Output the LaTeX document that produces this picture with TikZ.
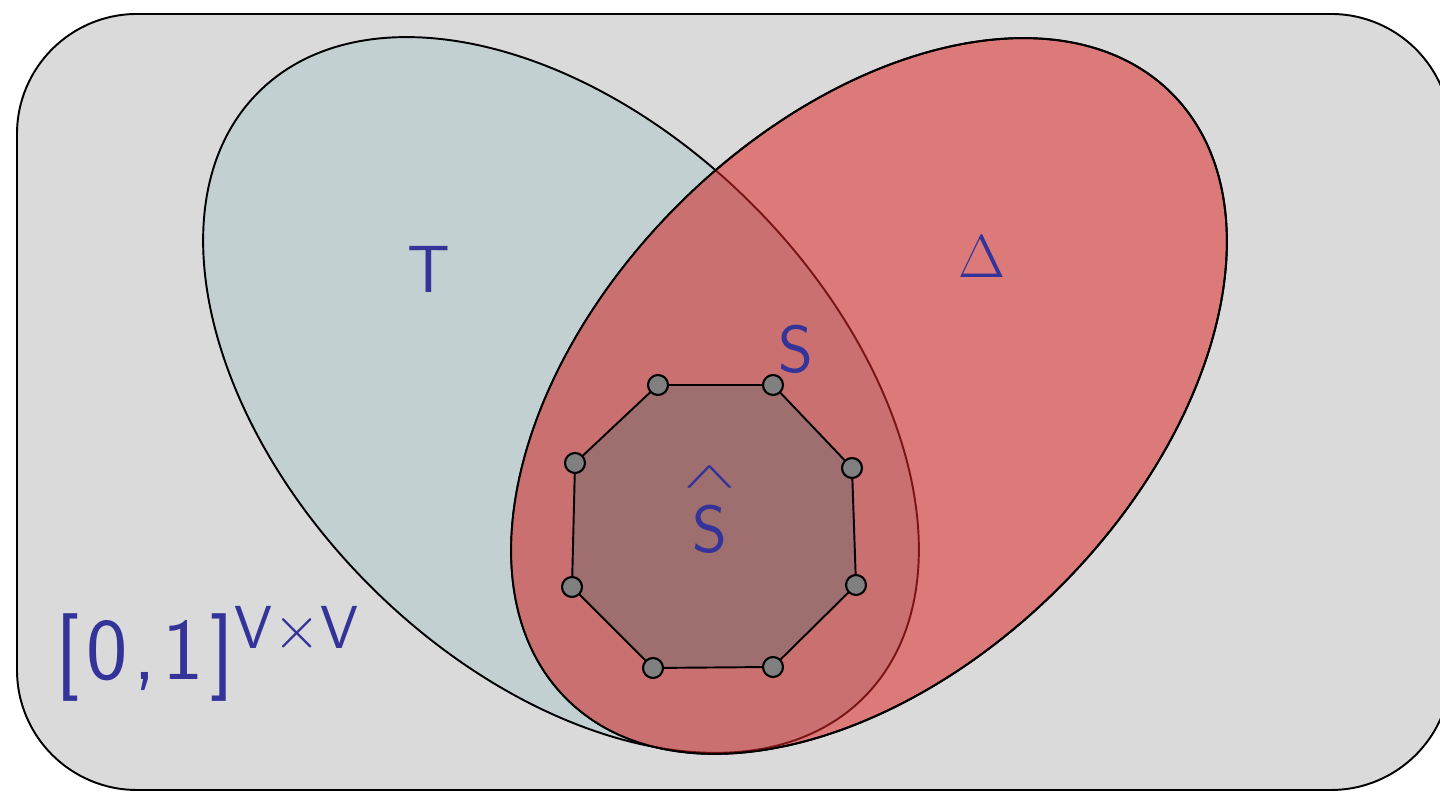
\documentclass[tikz,border=0pt]{standalone}
\usepackage{amsmath}
\usepackage{graphicx}
\usepackage{tikz}
\definecolor{bggray}{HTML}{DADADA}
\definecolor{tblue}{HTML}{C3D0D1}
\definecolor{dred}{HTML}{DC7A7A}
\definecolor{sred}{HTML}{CB7070}
\definecolor{sline}{HTML}{7A1515}
\definecolor{hatred}{HTML}{9E6F6E}
\definecolor{dotgray}{HTML}{808080}
\definecolor{labelblue}{HTML}{333399}

\begin{document}
\begin{tikzpicture}[
  outline/.style={line width=0.55pt},
  lbl/.style={text=labelblue, font=\sffamily\fontsize{19}{20}\selectfont, inner sep=0pt},
  vdot/.style={circle, draw=black, fill=dotgray, line width=0.6pt, minimum size=0.2cm, inner sep=0pt}]
\useasboundingbox (0,0) rectangle (14.4,7.92);
\filldraw[fill=bggray, outline, rounded corners=1.2cm] (0.17,0.02) rectangle (14.51,7.78);
\coordinate (tc) at (5.61,3.97);
\coordinate (dc) at (8.69,3.96);
\filldraw[fill=tblue, outline, rotate around={-45:(tc)}] (tc) ellipse (4.28 and 2.70);
\filldraw[fill=dred, outline, rotate around={45:(dc)}] (dc) ellipse (4.28 and 2.70);
\begin{scope}
\clip[rotate around={45:(dc)}] (dc) ellipse (4.28 and 2.70);
\filldraw[fill=sred, draw=sline, outline, rotate around={-45:(tc)}] (tc) ellipse (4.28 and 2.70);
\end{scope}
\draw[outline, rotate around={45:(dc)}] (dc) ellipse (4.28 and 2.70);
\foreach \i/\x/\y in {1/6.58/4.07, 2/7.73/4.07, 3/8.52/3.24, 4/8.56/2.07,
  5/7.73/1.25, 6/6.53/1.24, 7/5.72/2.05, 8/5.75/3.29}
  \coordinate (p\i) at (\x,\y);
\filldraw[fill=hatred, outline] (p1) -- (p2) -- (p3) -- (p4) -- (p5) -- (p6) -- (p7) -- (p8) -- cycle;
\foreach \i in {1,...,8}
  \node[vdot] (v\i) at (p\i) {};
\node[lbl, anchor=base] (tlabel) at (4.29,4.99) {T};
\node[lbl, anchor=base, font=\fontsize{18}{19}\selectfont] (dlabel) at (9.82,5.14) {$\Delta$};
\node[lbl, anchor=base] (slabel) at (7.96,4.19) {S};
\node[lbl, anchor=base] (shatlabel) at (7.10,2.39)
  {\shortstack{\scalebox{1.3}[0.6]{$\wedge$}\\[2pt]S}};
\node[lbl, anchor=base west, font=\sffamily\fontsize{25}{26}\selectfont] (cube) at (0.55,1.12)
  {[\kern1.8pt0\kern1.8pt,\kern1.8pt1\kern1.8pt]$^{\mathsf{V}\times\mathsf{V}}$};
\end{tikzpicture}
\end{document}
